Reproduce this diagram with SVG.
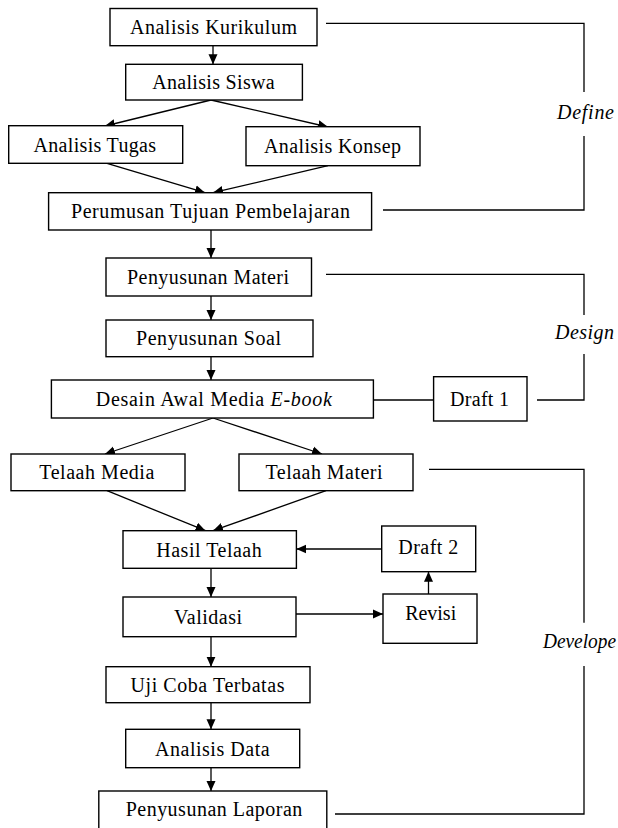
<svg xmlns="http://www.w3.org/2000/svg" width="618" height="828" viewBox="0 0 618 828">
<defs>
<marker id="arr" viewBox="0 0 10 10" refX="10" refY="5" markerWidth="10" markerHeight="10" markerUnits="userSpaceOnUse" orient="auto">
<path d="M0,0.5 L10,5 L0,9.5 z" fill="#000"/>
</marker>
<style>
.box{fill:#fff;stroke:#000;stroke-width:1.4}
.t{font-family:"Liberation Serif","Times New Roman",serif;font-size:20px;fill:#000;text-anchor:middle}
.lbl{font-family:"Liberation Serif","Times New Roman",serif;font-size:20px;font-style:italic;fill:#000}
.c{fill:none;stroke:#000;stroke-width:1.3}
.a{marker-end:url(#arr)}
</style>
</defs>
<rect width="618" height="828" fill="#fff"/>
<g id="connectors">
<line class="c a" x1="213" y1="45.7" x2="213" y2="64.3"/>
<line class="c a" x1="211" y1="100" x2="105" y2="126"/>
<line class="c a" x1="211" y1="100" x2="328" y2="127"/>
<line class="c a" x1="107" y1="163.3" x2="205" y2="192.7"/>
<line class="c a" x1="328" y1="165.7" x2="213" y2="192.7"/>
<line class="c a" x1="211" y1="230" x2="211" y2="258"/>
<line class="c a" x1="211" y1="296" x2="211" y2="320"/>
<line class="c a" x1="211" y1="356.7" x2="211" y2="380"/>
<line class="c" x1="373.4" y1="400" x2="433.6" y2="400"/>
<line class="c a" x1="213" y1="418" x2="105" y2="454"/>
<line class="c a" x1="213" y1="418" x2="322" y2="454"/>
<line class="c a" x1="107" y1="490.7" x2="205.5" y2="530.7"/>
<line class="c a" x1="326" y1="490.7" x2="213" y2="530.7"/>
<line class="c a" x1="381.7" y1="549" x2="296.4" y2="549"/>
<line class="c a" x1="211" y1="568.3" x2="211" y2="597"/>
<line class="c a" x1="296" y1="614" x2="383" y2="614"/>
<line class="c a" x1="428.5" y1="594" x2="428.5" y2="571.7"/>
<line class="c a" x1="211" y1="636.7" x2="211" y2="666.7"/>
<line class="c a" x1="211" y1="702.7" x2="211" y2="729.3"/>
<line class="c a" x1="211" y1="767.7" x2="211" y2="791"/>
<polyline class="c" points="326,23.3 584,23.3 584,92"/>
<polyline class="c" points="584,136 584,210 383,210"/>
<polyline class="c" points="326,274.3 584,274.3 584,315"/>
<polyline class="c" points="584,354 584,400 537,400"/>
<polyline class="c" points="429,469.3 584,469.3 584,622.7"/>
<polyline class="c" points="584,666 584,814 335,814"/>
</g>
<g id="labels">
<text class="lbl" x="557" y="119" textLength="57" lengthAdjust="spacing">Define</text>
<text class="lbl" x="555" y="339" textLength="59" lengthAdjust="spacing">Design</text>
<text class="lbl" x="543" y="648" textLength="73" lengthAdjust="spacingAndGlyphs">Develope</text>
</g>
<g id="n-analisis-kurikulum"><rect class="box" x="110" y="8.5" width="207" height="37.2"/><text class="t" x="213.5" y="34.3" textLength="167" lengthAdjust="spacing">Analisis Kurikulum</text></g>
<g id="n-analisis-siswa"><rect class="box" x="125.7" y="64.3" width="176.7" height="35.7"/><text class="t" x="213.4" y="89" textLength="122.5" lengthAdjust="spacing">Analisis Siswa</text></g>
<g id="n-analisis-tugas"><rect class="box" x="8.7" y="125.7" width="174" height="37.6"/><text class="t" x="94.8" y="151.5" textLength="122.5" lengthAdjust="spacing">Analisis Tugas</text></g>
<g id="n-analisis-konsep"><rect class="box" x="246" y="126.7" width="174" height="39"/><text class="t" x="332.5" y="153" textLength="137" lengthAdjust="spacing">Analisis Konsep</text></g>
<g id="n-perumusan"><rect class="box" x="48.6" y="192.7" width="323" height="37.3"/><text class="t" x="210.5" y="218.3" textLength="279" lengthAdjust="spacing">Perumusan Tujuan Pembelajaran</text></g>
<g id="n-penyusunan-materi"><rect class="box" x="106" y="258" width="205.5" height="38"/><text class="t" x="208" y="284" textLength="162" lengthAdjust="spacing">Penyusunan Materi</text></g>
<g id="n-penyusunan-soal"><rect class="box" x="106" y="320" width="207" height="36.7"/><text class="t" x="208.5" y="345.3" textLength="145" lengthAdjust="spacing">Penyusunan Soal</text></g>
<g id="n-desain-awal"><rect class="box" x="51.4" y="380" width="322" height="38"/><text class="t" x="213.8" y="406" textLength="236" lengthAdjust="spacing">Desain Awal Media <tspan font-style="italic">E-book</tspan></text></g>
<g id="n-draft1"><rect class="box" x="433.6" y="376.7" width="93.4" height="44.3"/><text class="t" x="479.5" y="405.5" textLength="59" lengthAdjust="spacing">Draft 1</text></g>
<g id="n-telaah-media"><rect class="box" x="11" y="454" width="174" height="36.7"/><text class="t" x="96.8" y="479.3" textLength="115" lengthAdjust="spacing">Telaah Media</text></g>
<g id="n-telaah-materi"><rect class="box" x="239" y="454" width="174" height="36.7"/><text class="t" x="324" y="479.3" textLength="117" lengthAdjust="spacing">Telaah Materi</text></g>
<g id="n-hasil-telaah"><rect class="box" x="123" y="530.7" width="173.4" height="37.6"/><text class="t" x="209" y="556.5" textLength="105.5" lengthAdjust="spacing">Hasil Telaah</text></g>
<g id="n-draft2"><rect class="box" x="381.7" y="526" width="94" height="45.7"/><text class="t" x="428.3" y="554.3" textLength="60" lengthAdjust="spacing">Draft 2</text></g>
<g id="n-validasi"><rect class="box" x="123" y="597" width="173" height="39.7"/><text class="t" x="208" y="623.5" textLength="68" lengthAdjust="spacing">Validasi</text></g>
<g id="n-revisi"><rect class="box" x="383" y="594" width="94" height="49.3"/><text class="t" x="430.7" y="620" textLength="51" lengthAdjust="spacing">Revisi</text></g>
<g id="n-uji-coba"><rect class="box" x="106" y="666.7" width="204" height="36"/><text class="t" x="207.5" y="691.7" textLength="154" lengthAdjust="spacing">Uji Coba Terbatas</text></g>
<g id="n-analisis-data"><rect class="box" x="125.7" y="729.3" width="174" height="38.4"/><text class="t" x="212.3" y="755.5" textLength="114.6" lengthAdjust="spacing">Analisis Data</text></g>
<g id="n-penyusunan-laporan"><rect class="box" x="98.8" y="791" width="228" height="45"/><text class="t" x="214" y="815.7" textLength="176.7" lengthAdjust="spacing">Penyusunan Laporan</text></g>
</svg>
